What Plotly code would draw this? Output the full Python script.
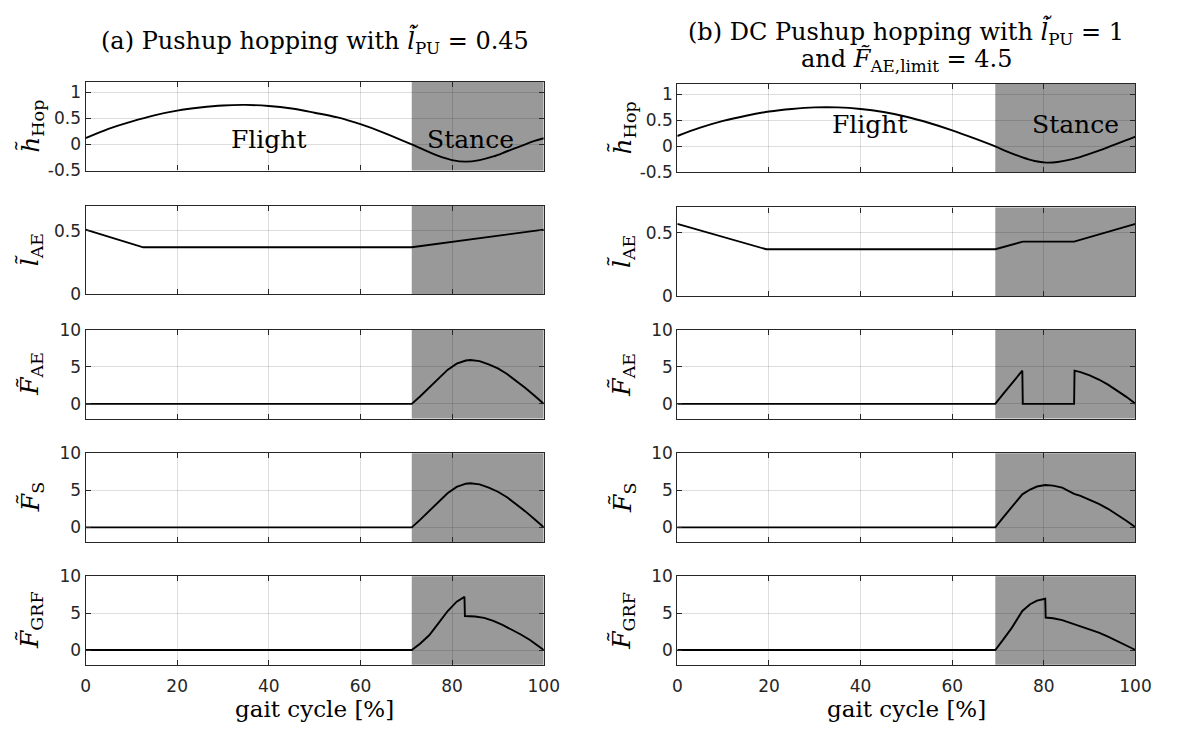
import plotly.graph_objects as go

# ---- gait-cycle data (x in % of gait cycle) ----
# (a) Pushup hopping
stance_a = 71.2
hop_x_a = [0, 5, 10, 15, 20, 25, 30, 35, 40, 45, 50, 55, 60, 65, 71.2,
           74, 77, 80, 83, 86, 89, 92, 95, 98, 100]
hop_a = [0.12, 0.30, 0.44, 0.56, 0.65, 0.71, 0.75, 0.76, 0.74, 0.69, 0.61, 0.52,
         0.39, 0.23, 0.0, -0.11, -0.22, -0.30, -0.33, -0.30, -0.23, -0.13, -0.03, 0.07, 0.12]
lae_x_a = [0, 12.6, 71.2, 100]
lae_a = [0.51, 0.37, 0.37, 0.51]
fae_x_a = [0, 71.2, 73, 75, 77, 79, 81, 83, 84, 86, 88, 90, 92, 94, 96, 98, 100]
fae_a = [0, 0, 1.0, 2.2, 3.4, 4.6, 5.45, 5.88, 5.95, 5.8, 5.35, 4.8, 4.05, 3.15, 2.15, 1.1, 0]
fs_x_a = [0, 71.2, 73, 75, 77, 79, 81, 83, 84, 86, 88, 90, 92, 94, 96, 98, 100]
fs_a = [0, 0, 1.0, 2.2, 3.4, 4.6, 5.45, 5.88, 5.95, 5.8, 5.35, 4.8, 4.05, 3.15, 2.15, 1.1, 0]
grf_x_a = [0, 71.2, 73, 75, 77, 79, 81, 82.7, 82.8, 85, 87, 89, 91, 93, 95, 97, 99, 100]
grf_a = [0, 0, 0.85, 2.0, 3.6, 5.25, 6.55, 7.2, 4.6, 4.55, 4.35, 3.95, 3.4, 2.8, 2.1, 1.35, 0.5, 0]

# (b) DC Pushup hopping
stance_b = 69.4
hop_x_b = [0, 5, 10, 15, 20, 25, 30, 35, 40, 45, 50, 55, 60, 65, 69.4,
           72, 75, 78, 80.5, 83, 86, 89, 92, 95, 98, 100]
hop_b = [0.20, 0.36, 0.49, 0.59, 0.67, 0.72, 0.75, 0.75, 0.72, 0.66, 0.57, 0.45,
         0.31, 0.15, 0.0, -0.10, -0.20, -0.28, -0.31, -0.30, -0.25, -0.17, -0.08, 0.02, 0.12, 0.19]
lae_x_b = [0, 19.4, 69.4, 75.4, 86.6, 100]
lae_b = [0.57, 0.37, 0.37, 0.43, 0.43, 0.57]
fae_x_b = [0, 69.4, 71, 73, 75.3, 75.4, 86.6, 86.7, 88, 90, 92, 94, 96, 98, 100]
fae_b = [0, 0, 1.25, 2.75, 4.5, 0, 0, 4.5, 4.3, 3.85, 3.3, 2.6, 1.8, 0.95, 0]
fs_x_b = [0, 69.4, 71, 73, 75.3, 77, 78.5, 80.3, 82, 84, 86.6, 88, 90, 92, 94, 96, 98, 100]
fs_b = [0, 0, 1.25, 2.75, 4.45, 5.1, 5.5, 5.7, 5.62, 5.35, 4.5, 4.25, 3.75, 3.15, 2.5, 1.75, 0.9, 0]
grf_x_b = [0, 69.4, 71, 73, 75.3, 77, 78.5, 80.3, 80.4, 82, 84, 86.6, 88, 90, 92, 94, 96, 98, 100]
grf_b = [0, 0, 1.3, 3.0, 5.3, 6.2, 6.7, 6.95, 4.4, 4.3, 4.05, 3.5, 3.25, 2.85, 2.35, 1.8, 1.2, 0.6, 0]

x_ticks = [0, 20, 40, 60, 80, 100]
y_ranges = [[-0.5, 1.2], [0, 0.7], [-2, 10], [-2, 10], [-2, 10]]
y_ticks = [[-0.5, 0, 0.5, 1], [0, 0.5], [0, 5, 10], [0, 5, 10], [0, 5, 10]]
y_tick_text = [["-0.5", "0", "0.5", "1"], ["0", "0.5"], ["0", "5", "10"], ["0", "5", "10"], ["0", "5", "10"]]
y_labels = ["<i>h\u0303</i><sub>Hop</sub>", "<i>l\u0303</i><sub>AE</sub>",
            "<i>F\u0303</i><sub>AE</sub>", "<i>F\u0303</i><sub>S</sub>",
            "<i>F\u0303</i><sub>GRF</sub>"]
title_lines = [["(a) Pushup hopping with <i>l\u0307\u0303</i><sub>PU</sub> = 0.45"],
               ["(b) DC Pushup hopping with <i>l\u0307\u0303</i><sub>PU</sub> = 1",
                "and <i>F\u0303</i><sub>AE,limit</sub> = 4.5"]]
phase_labels = ["Flight", "Stance"]
x_title = "gait cycle [%]"

columns = [
    dict(stance=stance_a, series=[(hop_x_a, hop_a), (lae_x_a, lae_a), (fae_x_a, fae_a),
                                  (fs_x_a, fs_a), (grf_x_a, grf_a)],
         phase_pos=[(40, 0.09), (84, 0.09)], title_y=[32]),
    dict(stance=stance_b, series=[(hop_x_b, hop_b), (lae_x_b, lae_b), (fae_x_b, fae_b),
                                  (fs_x_b, fs_b), (grf_x_b, grf_b)],
         phase_pos=[(42, 0.42), (87, 0.42)], title_y=[23, 52]),
]

# ---- layout geometry (pixels in a 1179 x 738 canvas) ----
W, H = 1179, 738
col_px = [(82, 548.5), (684.5, 1151)]
row_px = [[(74, 165), (201, 292), (329, 420), (455.5, 547), (582, 673)],
          [(76, 167), (203, 294), (329, 420), (455.5, 547), (582, 673)]]

SERIF = "DejaVu Serif"
SANS = "DejaVu Sans"
AXC = "#262626"

fig = go.Figure()
layout = dict(width=W, height=H, margin=dict(l=0, r=0, t=0, b=0),
              paper_bgcolor="white", plot_bgcolor="white", showlegend=False)
shapes, annotations = [], []

for c, col in enumerate(columns):
    x0p, x1p = col_px[c]
    for r in range(5):
        k = r * 2 + c + 1
        xa, ya = f"xaxis{k if k > 1 else ''}", f"yaxis{k if k > 1 else ''}"
        xr, yr = f"x{k if k > 1 else ''}", f"y{k if k > 1 else ''}"
        top, bot = row_px[c][r]
        axis_style = dict(ticks="inside", ticklen=5, tickcolor=AXC, tickwidth=1,
                          showline=True, linecolor=AXC, linewidth=1.2, mirror="ticks",
                          showgrid=True, gridcolor="rgba(0,0,0,0.13)", gridwidth=1,
                          zeroline=False, tickfont=dict(family=SANS, size=17, color=AXC))
        layout[xa] = dict(domain=[x0p / W, x1p / W], anchor=yr, range=[0, 100],
                          tickvals=x_ticks, showticklabels=(r == 4),
                          ticklabelstandoff=6, **axis_style)
        layout[ya] = dict(domain=[1 - bot / H, 1 - top / H], anchor=xr, range=y_ranges[r],
                          tickvals=y_ticks[r], ticktext=y_tick_text[r], **axis_style)
        # stance phase shading
        shapes.append(dict(type="rect", xref=xr, yref=f"{yr} domain", x0=col["stance"], x1=100,
                           y0=0, y1=1, fillcolor="#999999", line=dict(width=0), layer="below"))
        sx, sy = col["series"][r]
        fig.add_trace(go.Scatter(x=sx, y=sy, mode="lines", xaxis=xr, yaxis=yr,
                                 line=dict(color="black", width=1.9,
                                           shape="spline" if r == 0 else "linear"),
                                 hoverinfo="skip"))
        # y-axis label
        annotations.append(dict(text=y_labels[r], xref="paper", yref="paper",
                                x=(x0p - 55) / W, y=1 - (top + bot) / 2 / H,
                                xanchor="center", yanchor="middle", textangle=-90,
                                showarrow=False, font=dict(family=SERIF, size=25, color="black")))
        if r == 0:
            for txt, (px, py) in zip(phase_labels, col["phase_pos"]):
                annotations.append(dict(text=txt, xref=xr, yref=yr, x=px, y=py,
                                        showarrow=False, xanchor="center", yanchor="middle",
                                        font=dict(family=SERIF, size=25, color="black")))
    # column title and x-axis title
    for line, ty in zip(title_lines[c], col["title_y"]):
        annotations.append(dict(text=line, xref="paper", yref="paper",
                                x=(x0p + x1p) / 2 / W, y=1 - ty / H,
                                xanchor="center", yanchor="middle", showarrow=False,
                                font=dict(family=SERIF, size=24, color="black")))
    annotations.append(dict(text=x_title, xref="paper", yref="paper",
                            x=(x0p + x1p) / 2 / W, y=1 - 718 / H,
                            xanchor="center", yanchor="middle", showarrow=False,
                            font=dict(family=SERIF, size=23, color="black")))

layout["shapes"] = shapes
layout["annotations"] = annotations
fig.update_layout(**layout)
fig.write_html("out.html")
